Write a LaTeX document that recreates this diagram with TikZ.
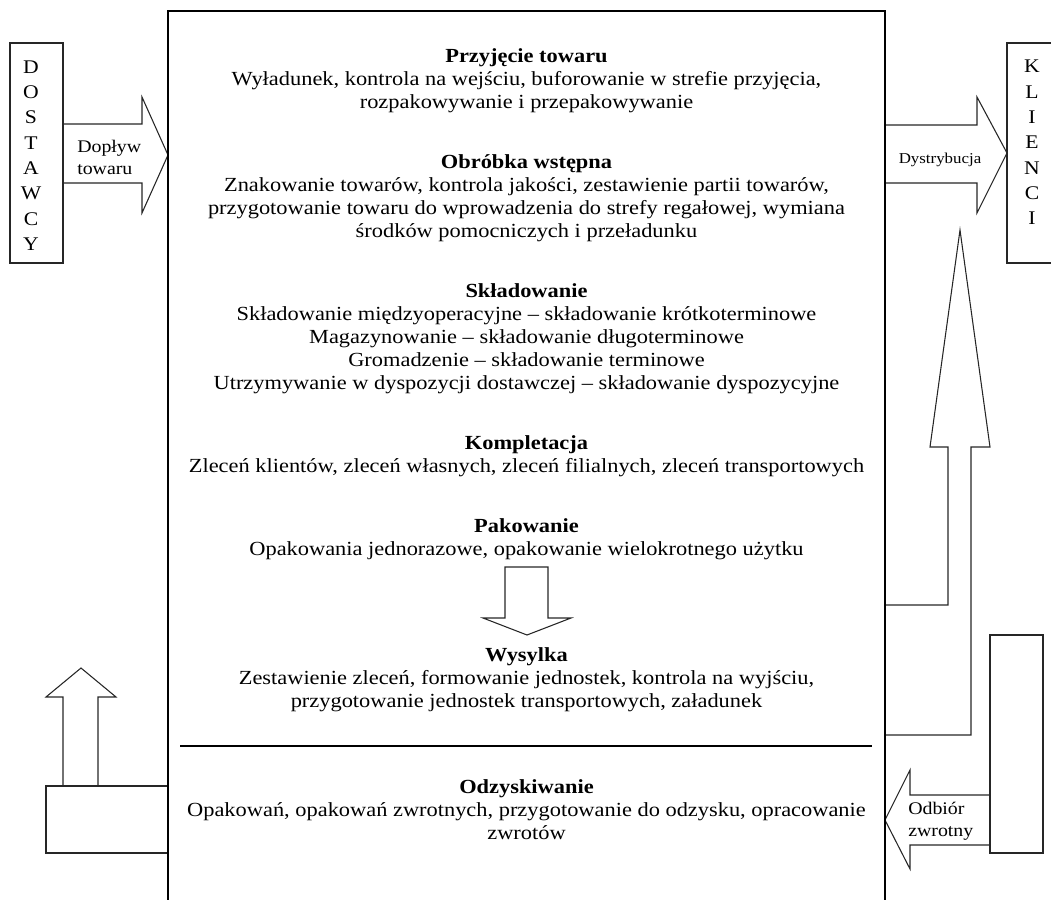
\documentclass[tikz,border=0pt]{standalone}
\usepackage{fontspec}
\setmainfont{Liberation Serif}[FakeStretch=1.12]
\begin{document}
\begin{tikzpicture}[x=0.75pt,y=-0.75pt,
  outl/.style={draw=black!85, line width=0.8pt, line join=miter},
  body/.style={font=\fontsize{15}{17.25}\selectfont, align=center, inner sep=0pt},
  lbl/.style={font=\fontsize{13.3}{16.5}\selectfont, align=left, inner sep=0pt},
  letters/.style={font=\fontsize{14.5}{19}\selectfont, align=center, inner sep=0pt}]
\useasboundingbox (0,0) rectangle (1051,900);

% main box (open at bottom)
\coordinate (mbl) at (168,905);
\coordinate (mtl) at (168,11);
\coordinate (mtr) at (885,11);
\coordinate (mbr) at (885,905);

% Dopływ arrow
\draw[outl, fill=white] (63,124) -- (142,124) -- (142,97) -- (168,155) -- (142,213) -- (142,183) -- (63,183);
% Dystrybucja arrow
\draw[outl, fill=white] (885,125) -- (977,125) -- (977,97) -- (1007,153) -- (977,213) -- (977,183) -- (885,183);
% big up arrow
\draw[outl] (885,605) -- (948,605) -- (948,447) -- (930,447) -- (960,230) -- (990,447) -- (971,447) -- (971,735) -- (885,735);
% Odbiór arrow
\draw[outl] (990,795) -- (910,795) -- (910,770) -- (885,820) -- (910,869) -- (910,845) -- (990,845);
% bottom-left up arrow and box
\draw[outl] (63,786) -- (63,697) -- (46,697) -- (81,668) -- (116,697) -- (98,697) -- (98,786);
\draw[outl] (168,786) -- (46,786) -- (46,853) -- (168,853);
% small down arrow
\draw[outl] (505,567) -- (548,567) -- (548,618) -- (571,618) -- (527,635) -- (483,618) -- (505,618) -- cycle;

\draw[black, line width=0.8pt] (mbl) -- (mtl) -- (mtr) -- (mbr);

% boxes
\node[draw=black!85, line width=0.8pt, minimum width=53*0.75pt, minimum height=220*0.75pt, inner sep=0pt] (dost) at (36.5,153) {};
\node[letters] (dostt) at (31,155.5) {D\\O\\S\\T\\A\\W\\C\\Y};
\node[draw=black!85, line width=0.8pt, minimum width=46*0.75pt, minimum height=220*0.75pt, inner sep=0pt] (kli) at (1030,153) {};
\node[letters] (klit) at (1032,142.5) {K\\L\\I\\E\\N\\C\\I};
\node[draw=black!85, line width=0.8pt, minimum width=53*0.75pt, minimum height=218*0.75pt, inner sep=0pt] (zwr) at (1016.5,744) {};

% separator
\coordinate (sepl) at (180,746);
\coordinate (sepr) at (872,746);
\draw[black, line width=0.8pt] (sepl) -- (sepr);

% arrow labels
\node[lbl, anchor=west] (dop) at (77,157) {Dopływ\\towaru};
\node[font=\fontsize{11.3}{14}\selectfont, inner sep=0pt] (dys) at (940,160) {Dystrybucja};
\node[lbl, anchor=west] (odb) at (908,821) {Odbiór\\zwrotny};

% sections
\node[body] (s1) at (526.5,80.5) {\textbf{Przyjęcie towaru}\\Wyładunek, kontrola na wejściu, buforowanie w strefie przyjęcia,\\rozpakowywanie i przepakowywanie};
\node[body] (s2) at (526.5,198.5) {\textbf{Obróbka wstępna}\\Znakowanie towarów, kontrola jakości, zestawienie partii towarów,\\przygotowanie towaru do wprowadzenia do strefy regałowej, wymiana\\środków pomocniczych i przeładunku};
\node[body] (s3) at (526.5,338.5) {\textbf{Składowanie}\\Składowanie międzyoperacyjne – składowanie krótkoterminowe\\Magazynowanie – składowanie długoterminowe\\Gromadzenie – składowanie terminowe\\Utrzymywanie w dyspozycji dostawczej – składowanie dyspozycyjne};
\node[body] (s4) at (526.5,456) {\textbf{Kompletacja}\\Zleceń klientów, zleceń własnych, zleceń filialnych, zleceń transportowych};
\node[body] (s5) at (526.5,539) {\textbf{Pakowanie}\\Opakowania jednorazowe, opakowanie wielokrotnego użytku};
\node[body] (s6) at (526.5,679.5) {\textbf{Wysylka}\\Zestawienie zleceń, formowanie jednostek, kontrola na wyjściu,\\przygotowanie jednostek transportowych, załadunek};
\node[body] (s7) at (526.5,809.5) {\textbf{Odzyskiwanie}\\Opakowań, opakowań zwrotnych, przygotowanie do odzysku, opracowanie\\zwrotów};
\end{tikzpicture}
\end{document}
